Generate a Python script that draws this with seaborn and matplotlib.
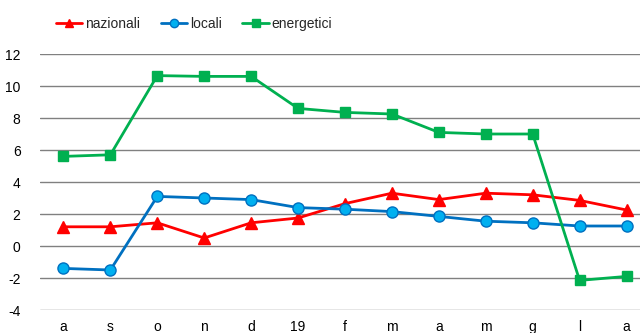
import pandas as pd
import matplotlib
matplotlib.use("Agg")
import matplotlib.pyplot as plt
import seaborn as sns

# Data
mesi = ["a", "s", "o", "n", "d", "19", "f", "m", "a", "m", "g", "l", "a"]
nazionali = [1.2, 1.2, 1.45, 0.5, 1.45, 1.75, 2.65, 3.3, 2.9, 3.3, 3.2, 2.85, 2.25]
locali = [-1.4, -1.5, 3.1, 3.0, 2.9, 2.4, 2.3, 2.15, 1.85, 1.55, 1.45, 1.25, 1.25]
energetici = [5.6, 5.7, 10.65, 10.6, 10.6, 8.6, 8.35, 8.25, 7.1, 7.0, 7.0, -2.15, -1.9]

df = pd.DataFrame({"pos": range(len(mesi)), "nazionali": nazionali,
                   "locali": locali, "energetici": energetici})

sns.set_style("white")
plt.rcParams["font.family"] = ["Liberation Sans", "DejaVu Sans"]
plt.rcParams["axes.unicode_minus"] = False

fig = plt.figure(figsize=(6.4, 3.33), dpi=100)
ax = fig.add_axes([40 / 640, 23 / 333, 610 / 640, 256 / 333])

styles = {
    "nazionali": dict(color="#FF0000", marker="^", markersize=8,
                      markerfacecolor="#FF0000", markeredgecolor="#FF0000"),
    "locali": dict(color="#0070C0", marker="o", markersize=8,
                   markerfacecolor="#00B0F0", markeredgecolor="#0070C0"),
    "energetici": dict(color="#00B050", marker="s", markersize=7,
                       markerfacecolor="#00B050", markeredgecolor="#00B050"),
}
for name, st in styles.items():
    sns.lineplot(data=df, x="pos", y=name, ax=ax, label=name, linewidth=2,
                 markeredgewidth=1, **st)

ax.set_xlim(-0.5, len(mesi) - 0.5)
ax.set_ylim(-4, 12)
ax.set_yticks(range(-4, 13, 2))
ax.set_xticks(range(len(mesi)))
ax.set_xticklabels(mesi)
ax.set_xlabel("")
ax.set_ylabel("")
ax.tick_params(axis="both", length=0, labelsize=10, colors="#000000")
ax.tick_params(axis="y", pad=14)
ax.tick_params(axis="x", pad=7)
ax.grid(axis="y", color="#808080", linewidth=1)
ax.set_axisbelow(True)
for s in ax.spines.values():
    s.set_visible(False)

ax.legend(loc="upper left", bbox_to_anchor=(0.005, 1.195), ncol=3, frameon=False,
          fontsize=10, handlelength=1.9, handletextpad=0.2, columnspacing=1.5,
          markerscale=0.75)

fig.savefig("out.png", dpi=100)
